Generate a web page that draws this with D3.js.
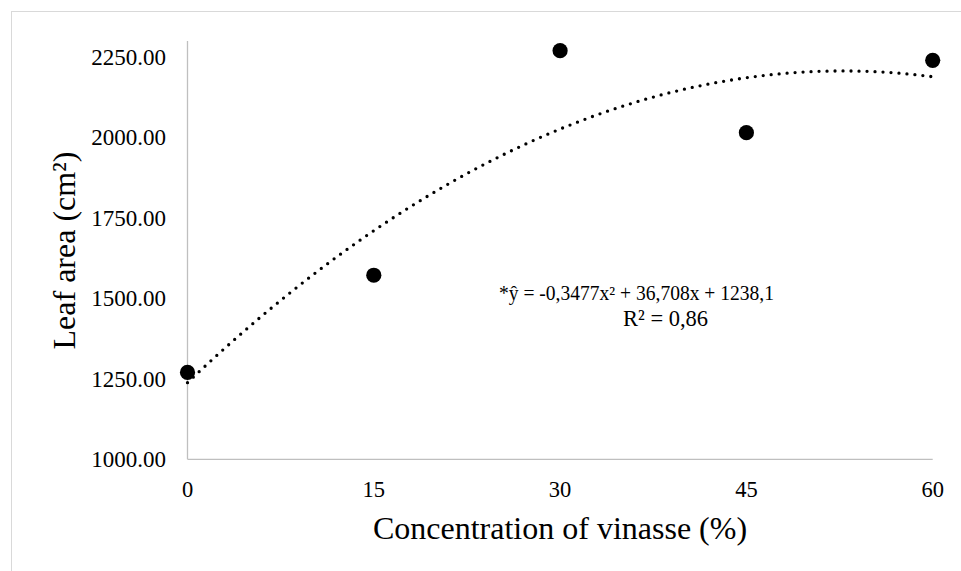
<!DOCTYPE html>
<html>
<head>
<meta charset="utf-8">
<script src="https://cdn.jsdelivr.net/npm/d3@7"></script>
<style>
  body { margin: 0; background: #fff; }
  svg { display: block; font-family: "Liberation Serif", "Times New Roman", serif; }
</style>
</head>
<body>
<svg width="961" height="571"></svg>
<script>
// data
var concentration = [0, 15, 30, 45, 60];
var leafArea = [1270, 1572, 2270, 2015, 2240];
var xTicks = [0, 15, 30, 45, 60];
var yTicks = [1000, 1250, 1500, 1750, 2000, 2250];
// trendline coefficients from the chart label: c0 + c1*x + c2*x^2
var trendCoef = [1238.1, 36.708, -0.3477];
var eqLines = ["*ŷ = -0,3477x² + 36,708x + 1238,1", "R² = 0,86"];

var svg = d3.select('svg');

// outer chart border (cropped on the right and bottom)
svg.append('rect')
  .attr('x', 11.5).attr('y', 11.5)
  .attr('width', 1000).attr('height', 600)
  .attr('fill', 'none')
  .attr('stroke', '#d9d9d9');

var x = d3.scaleLinear().domain([0, 60]).range([187.5, 932.7]);
var y = d3.scaleLinear().domain([1000, 2300]).range([459.3, 41]);

// axis lines
svg.append('line')
  .attr('x1', x(0)).attr('x2', x(0))
  .attr('y1', y(2300)).attr('y2', y(1000))
  .attr('stroke', '#bfbfbf').attr('stroke-width', 1.3);
svg.append('line')
  .attr('x1', x(0)).attr('x2', x(60))
  .attr('y1', y(1000)).attr('y2', y(1000))
  .attr('stroke', '#bfbfbf').attr('stroke-width', 1.3);

// tick labels
svg.selectAll('.ylab')
  .data(yTicks)
  .enter()
  .append('text')
    .attr('class', 'ylab')
    .attr('x', 166)
    .attr('y', function(d){ return y(d); })
    .attr('dy', '0.34em')
    .attr('text-anchor', 'end')
    .attr('font-size', 23)
    .text(function(d){ return d3.format('.2f')(d); });

svg.selectAll('.xlab')
  .data(xTicks)
  .enter()
  .append('text')
    .attr('class', 'xlab')
    .attr('x', function(d){ return x(d); })
    .attr('y', 497)
    .attr('text-anchor', 'middle')
    .attr('font-size', 22.5)
    .text(function(d){ return d; });

// axis titles
svg.append('text')
  .attr('x', 560).attr('y', 539)
  .attr('text-anchor', 'middle')
  .attr('font-size', 32)
  .text('Concentration of vinasse (%)');

svg.append('text')
  .attr('transform', 'translate(75,250.5) rotate(-90)')
  .attr('text-anchor', 'middle')
  .attr('font-size', 32)
  .text('Leaf area (cm²)');

// dotted polynomial trendline
var trendX = d3.range(0, 60.001, 0.5);
var line = d3.line()
  .x(function(d){ return x(d); })
  .y(function(d){ return y(trendCoef[0] + trendCoef[1] * d + trendCoef[2] * d * d); });

svg.append('path')
  .datum(trendX)
  .attr('d', line)
  .attr('fill', 'none')
  .attr('stroke', '#000')
  .attr('stroke-width', 3.3)
  .attr('stroke-linecap', 'round')
  .attr('stroke-dasharray', '0 8');

// points
svg.selectAll('circle')
  .data(concentration)
  .enter()
  .append('circle')
    .attr('cx', function(d){ return x(d); })
    .attr('cy', function(d, i){ return y(leafArea[i]); })
    .attr('r', 7.6)
    .attr('fill', '#000');

// equation label
svg.append('text')
  .attr('x', 499).attr('y', 300)
  .attr('font-size', 20)
  .attr('textLength', 275)
  .attr('lengthAdjust', 'spacingAndGlyphs')
  .text(eqLines[0]);
svg.append('text')
  .attr('x', 623).attr('y', 326)
  .attr('font-size', 22.5)
  .text(eqLines[1]);
</script>
</body>
</html>
